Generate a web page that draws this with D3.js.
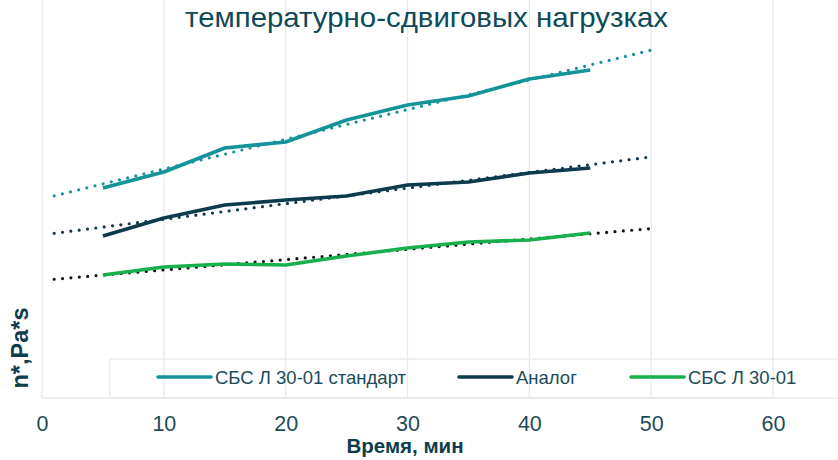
<!DOCTYPE html>
<html><head><meta charset="utf-8">
<script src="https://cdn.jsdelivr.net/npm/d3@7"></script>
<style>body{margin:0;background:#fff}svg{display:block;font-family:"Liberation Sans",Arial,sans-serif}</style>
</head><body><svg id="c" width="838" height="460"></svg>
<script>
const times = [5,10,15,20,25,30,35,40,45];
const standard = [210,226,250,256,278,293,302,319,328];
const analog = [162,180,193,198,202,213,216,225,230];
const sbs = [123,131,134,133,142,150,156,158,165];
const xTicks = [0,10,20,30,40,50,60];
const seriesNames = ["СБС Л 30-01 стандарт","Аналог","СБС Л 30-01"];
const colors = ["#14939a","#0d3b4b","#17b04d"];
const trendColors = ["#14939a","#0d3b4b","#111111"];
const trendRange = [1,50];

const svg = d3.select("#c");
const x = d3.scaleLinear().domain([0,60]).range([42,773]);
const y = d3.scaleLinear().domain([0,400]).range([398,-2]);
const plotTop = 0, plotBottom = 398;

// gridlines
svg.append("g").selectAll("line").data(xTicks).join("line")
  .attr("x1",d=>x(d)).attr("x2",d=>x(d)).attr("y1",plotTop).attr("y2",plotBottom)
  .attr("stroke","#e9e9e9").attr("stroke-width",1.3);
svg.append("line").attr("x1",x(0)).attr("x2",x(60)).attr("y1",plotBottom).attr("y2",plotBottom)
  .attr("stroke","#e9e9e9").attr("stroke-width",1.3);

// legend box
svg.append("rect").attr("x",110).attr("y",359).attr("width",760).attr("height",39)
  .attr("fill","none").attr("stroke","#e9e9e9").attr("stroke-width",1.3);

const data = [standard, analog, sbs];
const line = d3.line().x(d=>x(d[0])).y(d=>y(d[1]));

// trend lines (least squares)
data.forEach((vals,i)=>{
  const mx = d3.mean(times), my = d3.mean(vals);
  const slope = d3.sum(times.map((t,k)=>(t-mx)*(vals[k]-my))) / d3.sum(times.map(t=>(t-mx)*(t-mx)));
  const b = my - slope*mx;
  svg.append("path").datum(trendRange.map(t=>[t, b+slope*t])).attr("d",line)
    .attr("fill","none").attr("stroke",trendColors[i]).attr("stroke-width",3.2)
    .attr("stroke-linecap","round").attr("stroke-dasharray","0,8.4");
});

// data lines
data.forEach((vals,i)=>{
  svg.append("path").datum(times.map((t,k)=>[t,vals[k]])).attr("d",line)
    .attr("fill","none").attr("stroke",colors[i]).attr("stroke-width",3.6)
    .attr("stroke-linejoin","round");
});

// x axis labels
const xa = svg.append("g").attr("transform",`translate(0,${plotBottom})`)
  .call(d3.axisBottom(x).tickValues(xTicks).tickSize(0));
xa.select(".domain").remove();
xa.selectAll("text").attr("font-size",21.5).attr("fill","#1c4b59")
  .attr("font-family","Liberation Sans, Arial, sans-serif")
  .attr("y",33).attr("dy",null);

// axis titles
svg.append("text").attr("x",405).attr("y",453).attr("text-anchor","middle")
  .attr("font-size",20.5).attr("font-weight","bold").attr("fill","#0e3d4d").text("Время, мин");
svg.append("text").attr("transform","translate(28,348) rotate(-90)").attr("text-anchor","middle")
  .attr("font-size",23.5).attr("font-weight","bold").attr("fill","#0e3d4d").text("n*,Pa*s");

// title (second line visible)
svg.append("text").attr("x",426.5).attr("y",27).attr("text-anchor","middle")
  .attr("font-size",28).attr("fill","#0e4a58")
  .attr("textLength",483).attr("lengthAdjust","spacingAndGlyphs")
  .text("температурно-сдвиговых нагрузках");

// legend items
const legX = [158, 459, 631];
seriesNames.forEach((n,i)=>{
  svg.append("line").attr("x1",legX[i]).attr("x2",legX[i]+53).attr("y1",377).attr("y2",377)
    .attr("stroke",colors[i]).attr("stroke-width",3.6).attr("stroke-linecap","round");
  svg.append("text").attr("x",legX[i]+57).attr("y",384).attr("font-size",18.5)
    .attr("fill","#1c4b59").text(n);
});
</script></body></html>
